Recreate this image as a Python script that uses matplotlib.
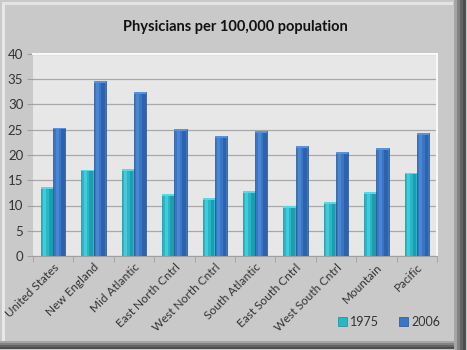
import numpy as np
import matplotlib
matplotlib.use("Agg")
import matplotlib.pyplot as plt
from matplotlib.patches import Rectangle

regions = ["United States", "New England", "Mid Atlantic", "East North Cntrl",
           "West North Cntrl", "South Atlantic", "East South Cntrl",
           "West South Cntrl", "Mountain", "Pacific"]
vals_1975 = [13.7, 17.1, 17.2, 12.2, 11.5, 12.8, 9.9, 10.7, 12.7, 16.5]
vals_2006 = [25.4, 34.7, 32.5, 25.2, 23.7, 24.8, 21.7, 20.6, 21.3, 24.4]
years = ["1975", "2006"]

plt.rcParams['font.family'] = ['Lato', 'DejaVu Sans']

fig = plt.figure(figsize=(4.67, 3.5), dpi=100)
fig.patch.set_facecolor('#c9c9c9')

# bevelled frame
W, H = 467.0, 350.0
fig.patches.append(Rectangle((0, 0), 1, 1, transform=fig.transFigure,
                             facecolor='#c9c9c9', edgecolor='none', zorder=-10))
fig.patches.append(Rectangle((2 / W, 6 / H), 3 / W, 1 - 8 / H, transform=fig.transFigure,
                             facecolor='#e8e8e8', edgecolor='none', zorder=-9))
fig.patches.append(Rectangle((2 / W, 1 - 5 / H), 1 - 16 / W, 3 / H, transform=fig.transFigure,
                             facecolor='#e4e4e4', edgecolor='none', zorder=-9))
for i, c in enumerate(['#a5a5a5', '#828282', '#646464', '#4e4e4e']):
    fig.patches.append(Rectangle(((454 + i * 3) / W, 0), 3 / W, 1, transform=fig.transFigure,
                                 facecolor=c, edgecolor='none', zorder=-8))
    fig.patches.append(Rectangle((0, (7 - i * 2) / H), 1 - 13 / W, 2 / H, transform=fig.transFigure,
                                 facecolor=c, edgecolor='none', zorder=-8))

ax = fig.add_axes([33 / W, 1 - 256 / H, 404 / W, 202 / H])
ax.set_facecolor('#e7e7e7')

x = np.arange(len(regions))
w = 0.3
b1 = ax.bar(x - w / 2, vals_1975, w, color='#27b8c8', edgecolor='#1a8a9a',
            linewidth=0.5, label=years[0], zorder=3)
b2 = ax.bar(x + w / 2, vals_2006, w, color='#3a76c6', edgecolor='#24528f',
            linewidth=0.5, label=years[1], zorder=3)

# strips to mimic cylinder shading
for bars, hc, dc in [(b1, '#5cd6e3', '#1b98a8'), (b2, '#5892da', '#2c5ea6')]:
    for r in bars:
        ax.bar(r.get_x() + r.get_width() * 0.32, r.get_height(), r.get_width() * 0.25,
               color=hc, alpha=0.6, linewidth=0, zorder=4)
        ax.bar(r.get_x() + r.get_width() * 0.8, r.get_height(), r.get_width() * 0.3,
               color=dc, alpha=0.8, linewidth=0, zorder=4)
        ax.bar(r.get_x() + r.get_width() / 2, 0.35, r.get_width(), bottom=r.get_height() - 0.35,
               color=hc, linewidth=0, zorder=5)

ax.set_xlim(-0.5, len(regions) - 0.5)
ax.set_ylim(0, 40)
ax.set_yticks(np.arange(0, 41, 5))
ax.yaxis.grid(True, color='#a8a8a8', linewidth=0.9, zorder=0)
ax.set_axisbelow(True)
for s in ['top', 'right']:
    ax.spines[s].set_color('#f8f8f8')
    ax.spines[s].set_linewidth(1.5)
ax.spines['left'].set_visible(False)
ax.spines['bottom'].set_color('#a0a0a0')
ax.tick_params(axis='y', length=4, color='#a0a0a0', labelsize=9.5, labelcolor='#333333', pad=3)
ax.set_xticks(x)
ax.set_xticklabels(regions, rotation=45, ha='right', rotation_mode='anchor',
                   fontsize=8.5, color='#333333')
ax.tick_params(axis='x', length=0, pad=4)
ax.set_xticks(np.arange(-0.5, len(regions), 1), minor=True)
ax.tick_params(axis='x', which='minor', length=4, color='#a0a0a0')

fig.text(0.503, 1 - 27 / H, "Physicians per 100,000 population", ha='center', va='center',
         fontsize=10.5, fontweight='bold', color='#111111')

fig.legend(handles=[b1, b2], labels=years, loc='center right',
           bbox_to_anchor=(452 / W, 1 - 322 / H), ncol=2, frameon=False,
           fontsize=9, handlelength=0.7, handleheight=0.7, handletextpad=0.3,
           columnspacing=1.6, labelcolor='#333333')

fig.savefig("out.png", dpi=100, facecolor=fig.get_facecolor())
